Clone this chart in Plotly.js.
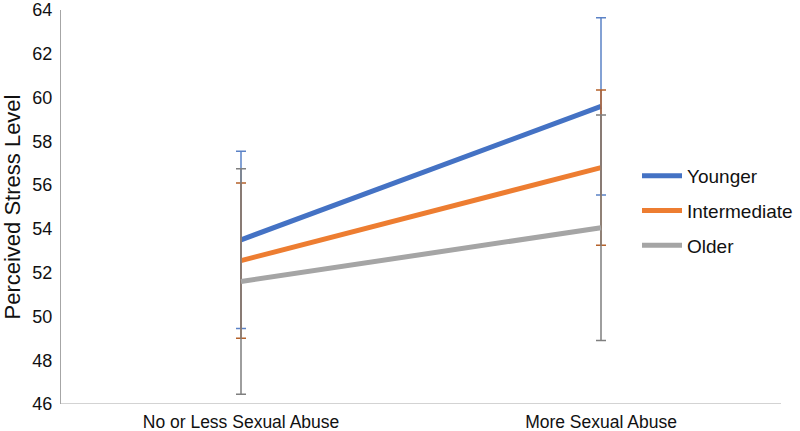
<!DOCTYPE html>
<html>
<head>
<meta charset="utf-8">
<script src="https://cdn.plot.ly/plotly-3.0.1.min.js"></script>
<style>html,body{margin:0;padding:0;background:#fff;}#chart{width:800px;height:431px;}</style>
</head>
<body>
<div id="chart"></div>
<script>
const categories = ["No or Less Sexual Abuse", "More Sexual Abuse"];
const seriesNames = ["Younger", "Intermediate", "Older"];
const younger = [53.5, 59.6];
const intermediate = [52.55, 56.8];
const older = [51.6, 54.05];
const youngerErr = [4.05, 4.05];
const intermediateErr = [3.55, 3.55];
const olderErr = [5.15, 5.15];
const yTicks = [46, 48, 50, 52, 54, 56, 58, 60, 62, 64];

const values = [younger, intermediate, older];
const errs = [youngerErr, intermediateErr, olderErr];
const lineColors = ["#4472C4", "#ED7D31", "#A5A5A5"];
const errColors = ["#5B82C6", "#B5622B", "#7F7F7F"];

const traces = seriesNames.map((name, i) => ({
  type: "scatter",
  mode: "lines",
  name: name,
  legendgroup: "g" + i,
  x: categories,
  y: values[i],
  line: {color: lineColors[i], width: 5},
  error_y: {type: "data", array: errs[i], visible: true, color: errColors[i], thickness: 1.5, width: 5},
  hoverinfo: "x+y"
}));

const layout = {
  width: 800, height: 431,
  margin: {l: 61, r: 19, t: 10, b: 27, autoexpand: false},
  paper_bgcolor: "#fff", plot_bgcolor: "#fff",
  font: {family: "Liberation Sans, Arial, Helvetica, sans-serif", color: "#111", size: 18},
  showlegend: true,
  legend: {x: 0.8, y: 0.49, xanchor: "left", yanchor: "middle",
           font: {size: 19, color: "#111"},
           tracegroupgap: 7, traceorder: "grouped", itemwidth: 40, bgcolor: "rgba(0,0,0,0)"},
  xaxis: {type: "category", range: [-0.5, 1.5], showgrid: false, zeroline: false, automargin: false,
          showline: false, ticks: "", ticklabelstandoff: 5, tickfont: {size: 17.5, color: "#111"}},
  yaxis: {range: [46, 64], tickvals: yTicks, ticktext: yTicks.map(String), showgrid: false, zeroline: false,
          showline: true, linecolor: "#A6A6A6", linewidth: 1, ticks: "", ticklen: 0, automargin: false,
          ticklabelstandoff: 4, ticklabeloverflow: "allow",
          tickfont: {size: 18, color: "#111"},
          title: {text: "Perceived Stress Level", font: {size: 22, color: "#111"}, standoff: 11}},
  shapes: [{type: "line", xref: "paper", yref: "y", x0: 0, x1: 1, y0: 46, y1: 46,
            line: {color: "#A6A6A6", width: 1}, layer: "below"}]
};

Plotly.newPlot("chart", traces, layout, {displayModeBar: false, staticPlot: true});
</script>
</body>
</html>
